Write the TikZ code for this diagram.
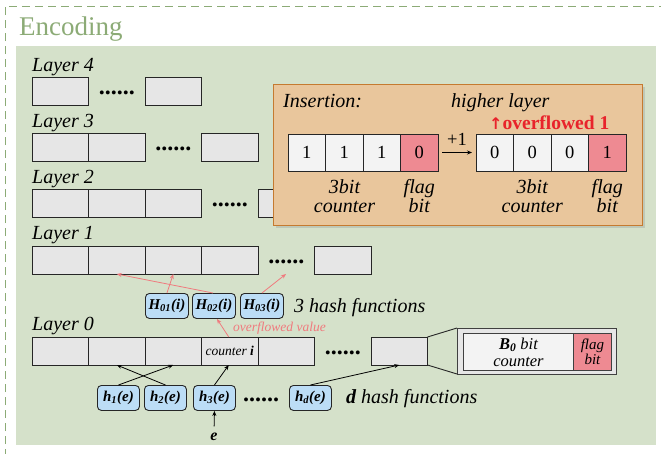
\documentclass[tikz,border=0pt]{standalone}
\usepackage{fontspec}
\setmainfont{Liberation Serif}
\newfontfamily\arrowfont{DejaVu Sans}
\usetikzlibrary{arrows.meta,shadows,calc}
\definecolor{bggreen}{HTML}{D5E1CA}
\definecolor{enc}{HTML}{8CAB76}
\definecolor{cellgray}{HTML}{E6E6E6}
\definecolor{hblue}{HTML}{BCDDF6}
\definecolor{tanfill}{HTML}{E9C69C}
\definecolor{tanborder}{HTML}{C57A30}
\definecolor{flagred}{HTML}{EE8A92}
\definecolor{ovred}{HTML}{E8232B}
\definecolor{pinkarrow}{HTML}{F07A7E}
\definecolor{icellfill}{HTML}{F3F3F3}
\begin{document}
\begin{tikzpicture}[x=1pt,y=-1pt,
  cell/.style={draw=black!85, fill=cellgray, line width=0.9pt, minimum width=56.5pt, minimum height=28pt, inner sep=0pt, outer sep=0pt, anchor=north west},
  lbl/.style={font=\fontsize{20}{22}\selectfont\itshape, anchor=base west, inner sep=0pt},
  dotrow/.style={font=\fontsize{24}{24}\selectfont\bfseries, anchor=base, inner sep=0pt},
  hbox/.style={draw=black!85, fill=hblue, rounded corners=4pt, line width=0.9pt, minimum width=43pt, minimum height=25pt, inner sep=0pt, anchor=north west, font=\fontsize{15}{16}\selectfont\bfseries\itshape},
  icell/.style={draw=black!85, fill=icellfill, line width=0.9pt, minimum width=37.5pt, minimum height=37pt, inner sep=0pt, outer sep=0pt, anchor=north west, font=\fontsize{18.5}{20}\selectfont},
  flagcell/.style={icell, fill=flagred},
  ilbl/.style={font=\fontsize{20}{19}\selectfont\itshape, align=center, inner sep=0pt},
  redarr/.style={draw=pinkarrow, line width=0.8pt, -{Stealth[length=5pt,width=4pt]}},
  blkarr/.style={draw=black, line width=0.8pt, -{Stealth[length=5pt,width=4pt]}}]
\useasboundingbox (0,0) rectangle (661,453);
% frame and background
\draw[enc, line width=1pt, dash pattern=on 8pt off 5pt] (5,470) -- (5,6) -- (670,6);
\fill[bggreen] (16,46) rectangle (656,445);
\node[anchor=base west, inner sep=0pt, text=enc, font=\fontsize{27}{30}\selectfont] (enc) at (19,35) {Encoding};
% layer labels
\node[lbl] (lab4) at (32,71) {Layer 4};
\node[lbl] (lab3) at (32,127) {Layer 3};
\node[lbl] (lab2) at (32,183) {Layer 2};
\node[lbl] (lab1) at (32,239) {Layer 1};
\node[lbl] (lab0) at (32,330) {Layer 0};
% layer 4
\node[cell] (l4c0) at (32,77) {};
\node[dotrow] (d4) at (116.75,94) {......};
\node[cell] (l4c2) at (145,77) {};
% layer 3
\foreach \k in {0,1} {\node[cell] (l3c\k) at ({32+56.5*\k},133) {};}
\node[dotrow] (d3) at (173.25,150) {......};
\node[cell] (l3c3) at (201.5,133) {};
% layer 2
\foreach \k in {0,1,2} {\node[cell] (l2c\k) at ({32+56.5*\k},189) {};}
\node[dotrow] (d2) at (229.75,206) {......};
\node[cell] (l2c4) at (258,189) {};
% layer 1
\foreach \k in {0,1,2,3} {\node[cell] (l1c\k) at ({32+56.5*\k},246) {};}
\node[dotrow] (d1) at (286.25,263) {......};
\node[cell] (l1c5) at (314.5,246) {};
% layer 0
\foreach \k in {0,1,2,4} {\node[cell] (l0c\k) at ({32+56.5*\k},337) {};}
\node[cell, font=\fontsize{13.5}{14}\selectfont\itshape] (l0c3) at (201.5,337) {counter \textbf{i}};
\node[dotrow] (d0) at (342.75,354) {......};
\node[cell] (l0c6) at (371,337) {};
% zoomed counter
\node[draw=black!75, fill=cellgray, line width=0.9pt, minimum width=159pt, minimum height=46pt, inner sep=0pt, outer sep=0pt, anchor=north west] (zoomout) at (457,328) {};
\node[draw=black!75, fill=icellfill, line width=0.9pt, minimum width=110pt, minimum height=37pt, inner sep=0pt, anchor=north west, align=center, font=\fontsize{16.5}{17}\selectfont\itshape] (zoomin) at (463,333) {\textbf{B}\textsubscript{\textbf{0}} bit\\counter};
\node[draw=black!75, fill=flagred, line width=0.9pt, minimum width=38pt, minimum height=37pt, inner sep=0pt, anchor=north west, align=center, font=\fontsize{15}{14.5}\selectfont\itshape] (zoomflag) at (573,333) {flag\\bit};
\draw[line width=0.9pt, black!85] (l0c6.north east) -- (zoomout.north west);
\draw[line width=0.9pt, black!85] (l0c6.south east) -- (zoomout.south west);
% H hash functions
\node[hbox] (H01) at (145,293) {H\textsubscript{01}(i)};
\node[hbox] (H02) at (192,293) {H\textsubscript{02}(i)};
\node[hbox] (H03) at (240,293) {H\textsubscript{03}(i)};
\node[lbl] (h3lab) at (294,312) {3 hash functions};
\node[anchor=base west, inner sep=0pt, text=pinkarrow, font=\fontsize{13.5}{15}\selectfont\itshape] (ovv) at (233,331) {overflowed value};
\coordinate (t3) at (286,274);
\draw[redarr] (H01.north) -- (l1c2.south);
\draw[redarr] ([xshift=-1pt]H02.north) -- (l1c1.south);
\draw[redarr] (H03.north) -- (t3);
\draw[redarr] ([xshift=-1pt]l0c3.north) -- ([xshift=3pt]H02.south);
% h hash functions
\node[hbox, minimum width=42pt] (h1) at (97,385) {h\textsubscript{1}(e)};
\node[hbox, minimum width=42pt] (h2) at (144,385) {h\textsubscript{2}(e)};
\node[hbox, minimum width=42pt] (h3) at (193,385) {h\textsubscript{3}(e)};
\node[dotrow] (dh) at (261,401) {......};
\node[hbox, minimum width=42pt] (hd) at (289,385) {h\textsubscript{d}(e)};
\node[lbl] (dlab) at (346,403) {\textbf{d} hash functions};
\node[anchor=base, inner sep=0pt, font=\fontsize{16}{16}\selectfont\bfseries\itshape] (e) at (214,440) {e};
\draw[blkarr] (h1.north) -- (l0c2.south);
\draw[blkarr] (h2.north) -- (l0c1.south);
\draw[blkarr] (h3.north) -- ([xshift=-1pt]l0c3.south);
\draw[blkarr] (hd.north) -- (l0c6.south);
\draw[blkarr, shorten <=6pt] (e.north) -- (h3.south);
% insertion box
\node[draw=tanborder, fill=tanfill, line width=1pt, minimum width=369pt, minimum height=141pt, inner sep=0pt, anchor=north west, drop shadow={shadow xshift=2pt, shadow yshift=-2pt, opacity=0.25}] (ins) at (273,84) {};
\node[lbl] (instit) at (283,107) {Insertion:};
\node[lbl] (higher) at (451,107) {higher layer};
\node[anchor=base west, inner sep=0pt, text=ovred, font=\fontsize{19.5}{20}\selectfont\bfseries] (ovf) at (489,129) {{\arrowfont\fontsize{16}{16}\selectfont ↑}overflowed 1};
\node[icell] (a1) at (288,134) {1};
\node[icell] (a2) at (325.5,134) {1};
\node[icell] (a3) at (363,134) {1};
\node[flagcell] (a4) at (400.5,134) {0};
\node[icell] (b1) at (476,134) {0};
\node[icell] (b2) at (513.5,134) {0};
\node[icell] (b3) at (551,134) {0};
\node[flagcell] (b4) at (588.5,134) {1};
\draw[line width=0.8pt, -{Stealth[length=5pt,width=4pt]}, shorten <=4pt, shorten >=4pt] (a4.east) -- (b1.west);
\node[anchor=base, inner sep=0pt, font=\fontsize{18.5}{20}\selectfont] (plus) at (457,145) {+1};
\node[ilbl] (ac) at (344.5,196) {3bit\\counter};
\node[ilbl] (af) at (419.25,196) {flag\\bit};
\node[ilbl] (bc) at (532.25,196) {3bit\\counter};
\node[ilbl] (bf) at (607.25,196) {flag\\bit};
\end{tikzpicture}
\end{document}
